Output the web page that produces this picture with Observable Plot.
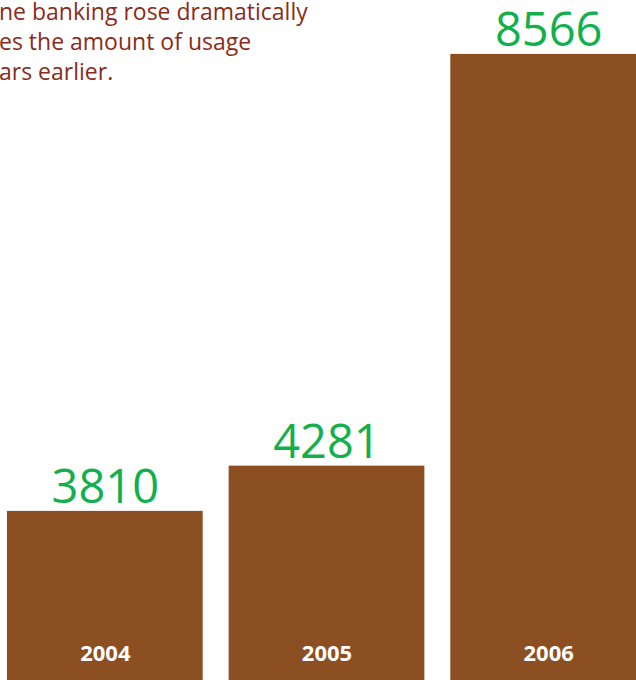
<!DOCTYPE html>
<html>
<head>
<meta charset="utf-8">
<script src="https://cdn.jsdelivr.net/npm/d3@7"></script>
<script src="https://cdn.jsdelivr.net/npm/@observablehq/plot@0.6"></script>
<style>
  html, body { margin: 0; padding: 0; background: #fff; overflow: hidden; width: 636px; height: 680px; }
  #wrap { position: relative; width: 636px; height: 680px; overflow: hidden; }
  #note { position: absolute; left: -1px; top: -4px; font-family: "Open Sans", sans-serif; font-size: 23px; line-height: 30px; color: #8A2B1A; white-space: nowrap; z-index: 2; }
  #chart { position: absolute; left: 0; top: 0; }
</style>
</head>
<body>
<div id="wrap">
  <div id="note"></div>
  <div id="chart"></div>
</div>
<script>
const years = ["2004", "2005", "2006"];
const usage = [3810, 4281, 8566];
const noteLines = ["ne banking rose dramatically", "es the amount of usage", "ars earlier."];

const data = years.map((y, i) => ({year: y, value: usage[i]}));

document.getElementById("note").innerHTML = noteLines.join("<br>");

const chart = Plot.plot({
  width: 636,
  height: 680,
  margin: 0,
  style: {background: "transparent", fontFamily: "Open Sans, sans-serif"},
  x: {domain: years, range: [-6, 659], paddingInner: 0.117, paddingOuter: 0.0585, align: 0.5, round: false, axis: null},
  y: {domain: [2050, 9127], range: [680, 0], axis: null},
  marks: [
    Plot.barY(data, {x: "year", y: "value", fill: "#8B4F21", clip: true}),
    Plot.text(data, {x: "year", y: "value", text: d => String(d.value), lineAnchor: "bottom", dy: -8, fill: "#12B04D", fontSize: 47}),
    Plot.text(data, {x: "year", text: "year", frameAnchor: "bottom", lineAnchor: "bottom", dy: -20, fill: "#ffffff", fontSize: 22, fontWeight: "bold"})
  ]
});
document.getElementById("chart").appendChild(chart);
</script>
</body>
</html>
